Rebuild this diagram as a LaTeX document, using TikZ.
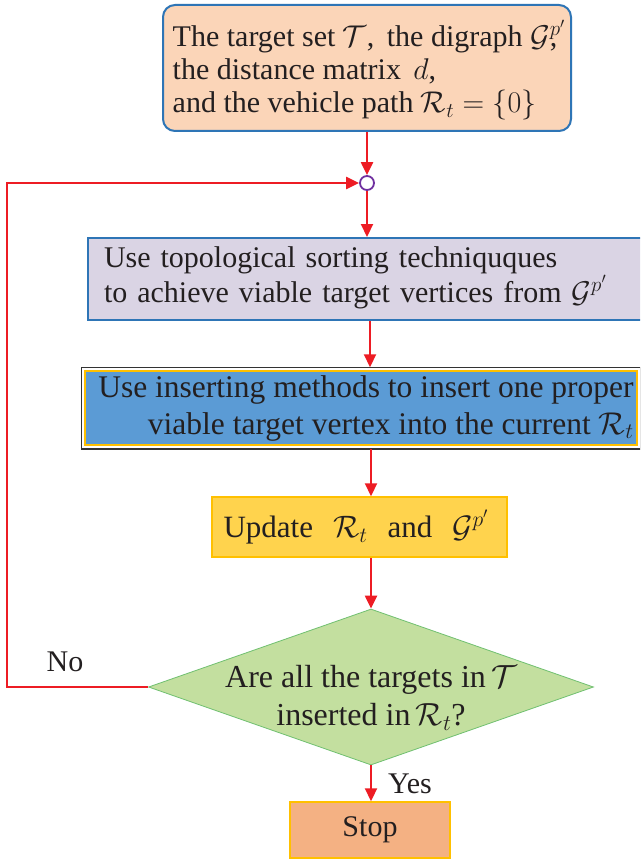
\RequirePackage{fix-cm}
\documentclass[tikz,border=0pt]{standalone}
\usepackage{fontspec}
\setmainfont{Liberation Serif}
\usetikzlibrary{shapes.geometric,arrows.meta,calc}
\definecolor{peach}{HTML}{FBD5B8}
\definecolor{bblue}{HTML}{2E75B6}
\definecolor{lav}{HTML}{DAD4E4}
\definecolor{mblue}{HTML}{5B9BD5}
\definecolor{gold}{HTML}{FFC000}
\definecolor{lgold}{HTML}{FFD34D}
\definecolor{lgreen}{HTML}{C3DF9F}
\definecolor{dgreen}{HTML}{70C070}
\definecolor{stopc}{HTML}{F4B183}
\definecolor{ared}{HTML}{ED1C24}
\definecolor{purp}{HTML}{7030A0}
\definecolor{txt}{HTML}{231F20}
\begin{document}
\begin{tikzpicture}[x=1pt,y=-1pt,
  every node/.style={text=txt, font=\fontsize{30}{33}\selectfont},
  arr/.style={draw=ared, line width=2.2pt, -{Triangle[length=13pt,width=12pt]}},
  topbox/.style={draw=bblue, line width=2pt, fill=peach, rounded corners=12pt, inner xsep=4pt, inner ysep=0pt},
  sortbox/.style={draw=bblue, line width=2pt, fill=lav, inner sep=0pt},
  insbox/.style={draw=gold, line width=1.5pt, fill=mblue, inner sep=0pt},
  updbox/.style={draw=gold, line width=1.5pt, fill=lgold, inner sep=0pt},
  decbox/.style={diamond, draw=dgreen, line width=0.8pt, fill=lgreen, inner sep=0pt},
  stopbox/.style={draw=gold, line width=1.5pt, fill=stopc, inner sep=0pt}
]
\clip (0,0) rectangle (640,861);
\fill[white] (0,0) rectangle (640,861);

\node[topbox, minimum width=408, minimum height=126, align=left] (top) at (367,68)
  {\rule{0pt}{31pt}\hspace*{4pt}The target set $\mathcal{T}$, \,the digraph $\mathcal{G}\rlap{,}^{p'}$\\\hspace*{4pt}the distance matrix $\,d$,\\\hspace*{4pt}and the vehicle path $\mathcal{R}_t=\{0\}$};

\node[circle, draw=purp, line width=1.8pt, fill=white, minimum size=14, inner sep=0pt] (circ) at (367,183) {};

\node[sortbox, anchor=west, minimum width=600, minimum height=82, text width=570, inner xsep=16pt, align=left] (b2) at (87,279)
  {Use topological sorting techniquques\\to achieve viable target vertices from $\mathcal{G}^{p'}$\rule[-9pt]{0pt}{0pt}};

\node[insbox, minimum width=552, minimum height=74, align=right, font=\fontsize{31.5}{37}\selectfont] (b3) at (361,408)
  {\hspace*{10pt}Use inserting methods to insert one proper\\viable target vertex into the current $\mathcal{R}_t$};
\draw[black!80, line width=1.5pt] ([xshift=-3pt,yshift=3pt]b3.north west) rectangle ([xshift=3pt,yshift=-3pt]b3.south east);

\node[updbox, minimum width=295, minimum height=60, font=\fontsize{31}{34}\selectfont] (b4) at (359.5,527)
  {Update\hspace{20pt}$\mathcal{R}_t$\hspace{20pt}and\hspace{20pt}$\mathcal{G}^{p'}$\hspace*{7pt}};

\node[decbox, minimum width=445, minimum height=156] (dec) at (371,687) {};
\node[align=center, font=\fontsize{32}{38}\selectfont] (dectext) at (371,698) {Are all the targets in\,$\mathcal{T}$\\inserted in\,$\mathcal{R}_t$?};

\node[stopbox, minimum width=160, minimum height=56] (stop) at (370,830) {Stop};

\coordinate (ax) at (370,0);
\coordinate (lx) at (7,0);

\draw[arr] (top.south) -- (circ.north);
\draw[arr] (circ.south) -- (circ.south |- b2.north);
\draw[arr] (b2.south -| ax) -- ([yshift=3pt]b3.north -| ax);
\draw[arr] ([yshift=-3pt]b3.south -| dec.north) -- (b4.north -| dec.north);
\draw[arr] (b4.south -| dec.north) -- (dec.north);
\draw[arr] (dec.south) -- (dec.south |- stop.north);
\draw[arr] (dec.west) -- (dec.west -| lx) |- (circ.west);

\node (no) at (65,662) {No};
\node (yes) at (410,784) {Yes};
\end{tikzpicture}
\end{document}
